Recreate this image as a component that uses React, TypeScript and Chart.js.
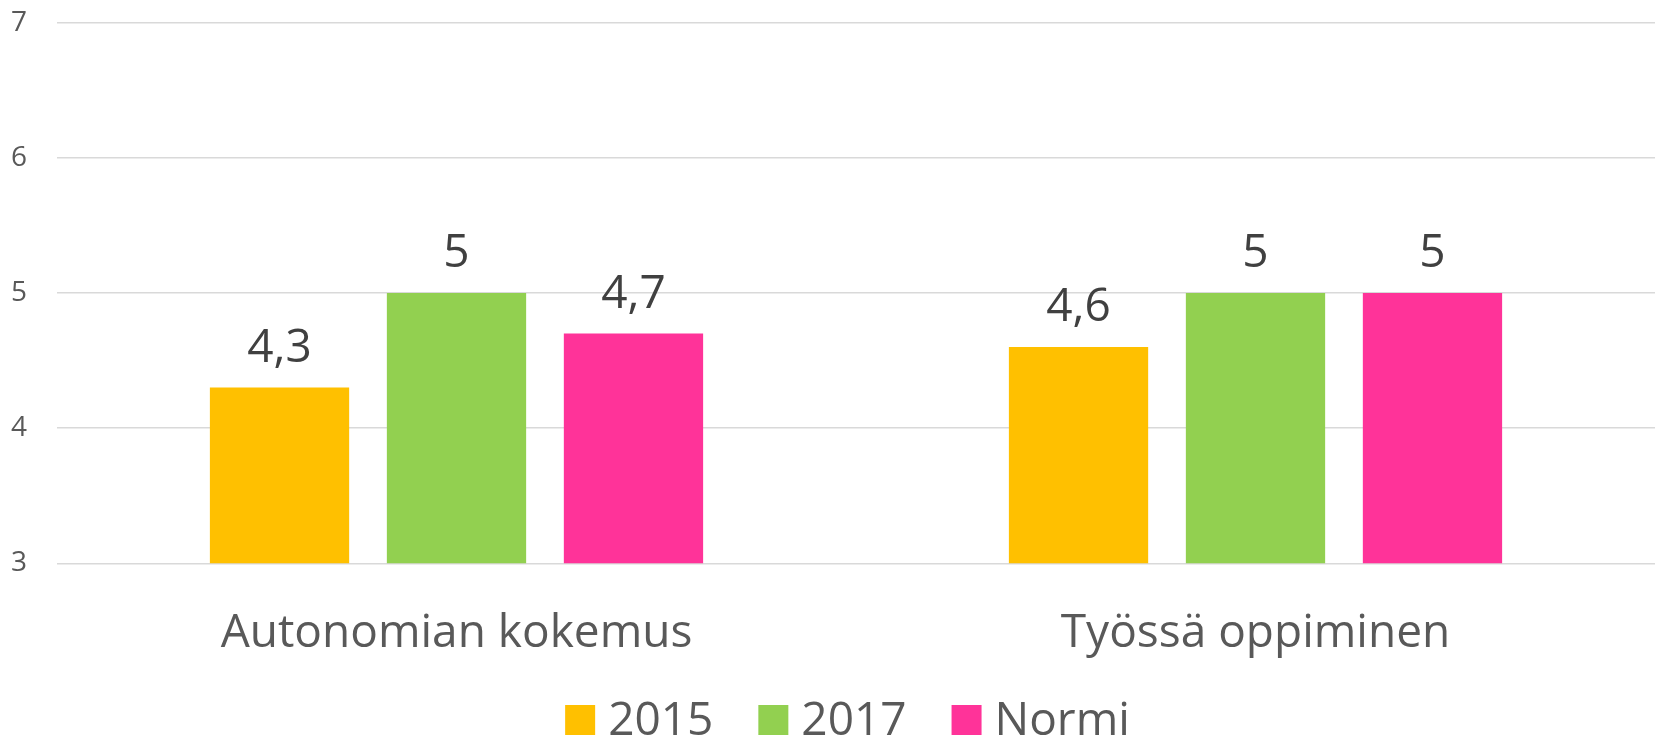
import React, { useEffect, useRef } from "react";
import { Chart, registerables } from "chart.js";

Chart.register(...registerables);

const categories = ["Autonomian kokemus", "Työssä oppiminen"];
const seriesNames = ["2015", "2017", "Normi"];
const values2015 = [4.3, 4.6];
const values2017 = [5, 5];
const valuesNormi = [4.7, 5];
const seriesColors = ["#FFC000", "#92D050", "#FF3399"];
const yMin = 3;
const yMax = 7;
const yStep = 1;

const FONT = "'Open Sans', 'DejaVu Sans', sans-serif";

const fmt = (v: number) => String(v).replace(".", ",");

const valueLabelPlugin = {
  id: "valueLabels",
  afterDatasetsDraw(chart: any) {
    const ctx = chart.ctx;
    ctx.save();
    ctx.font = `46px ${FONT}`;
    ctx.fillStyle = "#404040";
    ctx.textAlign = "center";
    ctx.textBaseline = "alphabetic";
    chart.data.datasets.forEach((ds: any, i: number) => {
      const meta = chart.getDatasetMeta(i);
      meta.data.forEach((el: any, j: number) => {
        ctx.fillText(fmt(ds.data[j]), el.x, el.y - 26);
      });
    });
    ctx.restore();
  },
};

const legendPlugin = {
  id: "customLegend",
  afterDraw(chart: any) {
    const ctx = chart.ctx;
    ctx.save();
    ctx.font = `46px ${FONT}`;
    ctx.textBaseline = "alphabetic";
    ctx.textAlign = "left";
    const box = 30;
    const gap = 13;
    const spacing = 45;
    const items = chart.data.datasets.map((ds: any) => ({
      text: ds.label,
      color: ds.backgroundColor,
      w: box + gap + ctx.measureText(ds.label).width,
    }));
    const total =
      items.reduce((a: number, it: any) => a + it.w, 0) + spacing * (items.length - 1);
    const cx = chart.width / 2 + 20;
    let x = cx - total / 2;
    const baseline = 735;
    items.forEach((it: any) => {
      ctx.fillStyle = it.color;
      ctx.fillRect(x, baseline - 30, box, box);
      ctx.fillStyle = "#595959";
      ctx.fillText(it.text, x + box + gap, baseline);
      x += it.w + spacing;
    });
    ctx.restore();
  },
};

export default function App() {
  const ref = useRef<HTMLCanvasElement>(null);
  useEffect(() => {
    if (!ref.current) return;
    const chart = new Chart(ref.current, {
      type: "bar",
      data: {
        labels: categories,
        datasets: [
          { label: seriesNames[0], data: values2015, backgroundColor: seriesColors[0] },
          { label: seriesNames[1], data: values2017, backgroundColor: seriesColors[1] },
          { label: seriesNames[2], data: valuesNormi, backgroundColor: seriesColors[2] },
        ],
      },
      options: {
        animation: false,
        responsive: false,
        devicePixelRatio: 1,
        datasets: {
          bar: {
            categoryPercentage: 0.6645,
            barPercentage: 0.787,
            borderWidth: 0,
          } as any,
        },
        layout: { padding: { top: 22.7, left: 11, right: 0, bottom: 74.7 } },
        plugins: {
          legend: { display: false },
          tooltip: { enabled: false },
        },
        scales: {
          x: {
            grid: { display: false, drawTicks: false },
            border: { display: false },
            ticks: {
              color: "#595959",
              font: { family: FONT, size: 46 },
              padding: 43,
              maxRotation: 0,
              autoSkip: false,
            },
            afterFit: (s: any) => {
              s.height = 100;
            },
          },
          y: {
            min: yMin,
            max: yMax,
            grid: { color: "#D9D9D9", lineWidth: 1.5, drawTicks: false },
            border: { display: false },
            ticks: {
              stepSize: yStep,
              color: "#595959",
              font: { family: FONT, size: 28 },
              padding: 0,
              crossAlign: "far",
            },
            afterFit: (s: any) => {
              s.width = 46;
            },
          },
        },
      },
      plugins: [valueLabelPlugin, legendPlugin],
    });
    return () => chart.destroy();
  }, []);
  return (
    <div style={{ position: "fixed", left: 0, top: 0, width: 1655, height: 738, overflow: "hidden", background: "#fff" }}>
      <canvas ref={ref} width={1655} height={738} style={{ display: "block", width: 1655, height: 738 }} />
    </div>
  );
}
